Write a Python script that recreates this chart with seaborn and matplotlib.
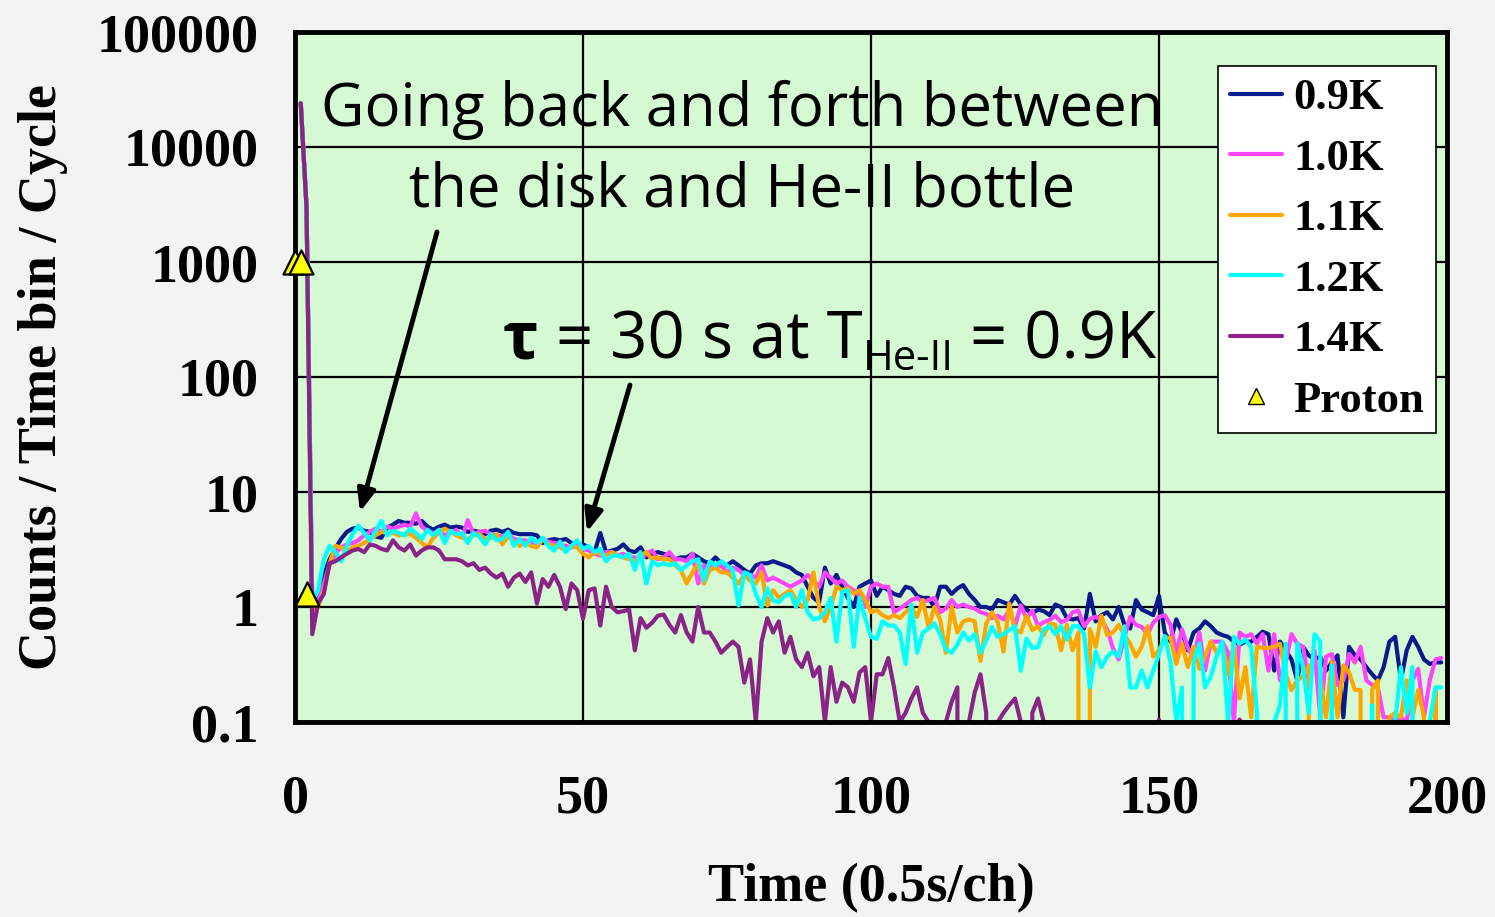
import pandas as pd
import matplotlib
matplotlib.use("Agg")
import matplotlib.pyplot as plt
import seaborn as sns
from matplotlib.lines import Line2D
from matplotlib.ticker import NullLocator

# time channels (0.5 s per channel)
channels = list(range(1, 200))

k09 = [24000, 3000, 1.0, 1.3, 1.9, 2.6, 3.2, 3.9, 4.5, 4.8,
       4.9, 4.6, 4.5, 4.1, 4.0, 4.9, 5.2, 5.6, 5.4, 5.4,
       5.3, 5.6, 5.0, 4.7, 5.0, 5.2, 4.9, 5.0, 4.9, 4.5,
       4.6, 4.5, 4.3, 4.6, 4.7, 4.5, 4.7, 4.4, 4.3, 4.3,
       4.3, 4.2, 3.6, 3.8, 3.9, 3.8, 3.9, 3.6, 3.4, 3.5,
       3.3, 3.0, 4.4, 3.0, 3.1, 3.2, 3.5, 3.1, 3.0, 3.3,
       2.7, 2.9, 3.0, 2.9, 2.8, 2.6, 2.7, 2.7, 2.9, 2.7,
       2.5, 2.4, 2.7, 2.4, 2.3, 2.5, 2.3, 2.1, 1.95, 2.3,
       2.4, 2.4, 2.5, 2.4, 2.3, 2.2, 2.0, 1.9, 1.5, 1.2,
       1.1, 2.2, 1.6, 1.9, 1.5, 1.2, 1.0, 1.5, 1.6, 1.7,
       1.25, 1.5, 1.4, 1.3, 1.25, 1.5, 1.45, 1.25, 1.2, 1.2,
       1.0, 1.5, 1.5, 1.3, 1.45, 1.55, 1.3, 1.15, 1.0, 1.0,
       0.95, 1.15, 1.1, 1.05, 1.25, 1.05, 0.95, 0.88, 0.95, 0.92,
       0.85, 1.05, 1.0, 0.8, 0.78, 0.8, 0.65, 1.3, 0.75, 0.85,
       0.9, 0.78, 1.0, 0.7, 0.65, 1.15, 0.95, 0.9, 0.85, 1.25,
       0.6, 0.5, 0.78, 0.6, 0.42, 0.6, 0.65, 0.75, 0.68, 0.6,
       0.57, 0.55, 0.5, 0.47, 0.5, 0.5, 0.55, 0.61, 0.58, 0.28,
       0.5, 0.42, 0.35, 0.23, 0.45, 0.38, 0.35, 0.37, 0.28, 0.33,
       0.38, 0.11, 0.45, 0.38, 0.35, 0.3, 0.26, 0.23, 0.3, 0.5,
       0.55, 0.23, 0.42, 0.55, 0.45, 0.35, 0.32, 0.33, 0.33]

k10 = [24000, 3000, 0.9, 1.1, 1.6, 2.3, 2.9, 3.3, 3.5, 3.6,
       3.8, 4.2, 4.5, 4.8, 4.5, 5.0, 4.8, 5.0, 5.2, 5.0,
       6.5, 5.0, 4.6, 4.4, 4.6, 4.2, 4.4, 4.7, 4.0, 5.7,
       4.3, 4.5, 4.6, 4.3, 4.2, 4.1, 4.3, 3.9, 3.8, 3.8,
       3.6, 3.5, 3.9, 3.7, 3.6, 3.5, 3.4, 3.3, 3.4, 3.2,
       3.1, 2.9, 2.8, 3.0, 3.0, 2.8, 2.9, 2.7, 2.7, 2.6,
       2.9, 3.1, 2.6, 2.7, 3.0, 2.6, 2.6, 2.5, 2.9, 1.6,
       2.3, 2.2, 2.3, 2.3, 2.0, 2.2, 2.1, 1.9, 1.9, 1.8,
       2.3, 1.7, 1.8, 1.7, 1.6, 1.5, 1.6, 1.7, 1.9, 1.7,
       1.5, 2.0, 1.8, 1.6, 1.7, 1.5, 1.4, 1.25, 1.0, 1.5,
       1.6, 1.5, 1.5, 0.9, 0.97, 1.05, 1.15, 1.2, 1.1, 1.15,
       1.2, 0.9, 0.97, 1.15, 1.0, 1.05, 1.0, 0.97, 0.9, 0.87,
       0.8, 0.84, 0.78, 0.94, 0.68, 1.03, 0.8, 0.93, 0.68, 0.74,
       0.77, 0.84, 0.74, 0.77, 0.9, 0.93, 0.68, 0.79, 0.82, 0.78,
       0.64, 0.44, 0.35, 0.55, 0.82, 0.7, 0.67, 0.58, 0.73, 0.82,
       0.85, 0.7, 0.4, 0.64, 0.44, 0.36, 0.6, 0.28, 0.5, 0.5,
       0.5, 0.4, 0.1, 0.6, 0.55, 0.58, 0.48, 0.58, 0.28, 0.58,
       0.23, 0.33, 0.58, 0.48, 0.45, 0.23, 0.42, 0.11, 0.37, 0.39,
       0.21, 0.23, 0.39, 0.33, 0.45, 0.23, 0.21, 0.2, 0.11, 0.11,
       0.1, 0.11, 0.1, 0.23, 0.29, 0.11, 0.23, 0.35, 0.36]

k11 = [24000, 3000, 0.85, 1.0, 1.4, 2.4, 3.4, 3.3, 3.0, 3.3,
       3.4, 3.6, 3.9, 4.2, 4.5, 4.4, 4.4, 4.2, 4.3, 4.3,
       4.0, 3.6, 3.3, 4.0, 4.4, 4.8, 4.5, 4.2, 4.0, 3.9,
       4.2, 4.3, 3.9, 4.0, 4.3, 3.5, 4.1, 3.7, 3.4, 3.6,
       3.4, 3.3, 3.9, 3.5, 3.4, 3.3, 3.1, 3.4, 3.3, 2.9,
       2.7, 3.0, 2.9, 2.8, 3.0, 2.8, 2.7, 2.6, 2.5, 2.8,
       3.0, 2.6, 2.7, 2.6, 2.6, 2.3, 2.1, 1.6, 2.0, 2.4,
       1.6, 2.1, 2.2, 2.0, 2.0, 1.8, 1.6, 1.9, 1.7, 1.6,
       2.0, 1.03, 1.4, 1.2, 1.3, 1.4, 1.15, 1.0, 1.15, 2.0,
       1.0, 0.75, 1.0, 1.5, 1.4, 1.45, 1.3, 1.4, 1.15, 0.9,
       0.94, 0.85, 0.8, 0.85, 0.8, 0.9, 1.0, 0.82, 1.15, 0.66,
       1.0, 0.78, 0.4, 1.0, 0.6, 0.75, 0.78, 0.75, 0.34, 0.72,
       0.9, 0.74, 0.41, 1.07, 0.63, 0.6, 0.84, 0.63, 0.68, 0.57,
       0.72, 0.7, 0.42, 0.7, 0.42, 0.6, 0.0, 0.64, 0.45, 0.84,
       0.57, 0.6, 0.7, 0.57, 0.48, 0.37, 0.45, 0.68, 0.37, 0.42,
       0.54, 0.54, 0.32, 0.48, 0.3, 0.45, 0.29, 0.37, 0.5, 0.4,
       0.48, 0.26, 0.48, 0.16, 0.3, 0.11, 0.45, 0.44, 0.44, 0.45,
       0.48, 0.26, 0.19, 0.23, 0.25, 0.31, 0.0, 0.23, 0.11, 0.33,
       0.11, 0.31, 0.27, 0.19, 0.19, 0.0, 0.19, 0.23, 0.0, 0.11,
       0.12, 0.11, 0.23, 0.11, 0.19, 0.11, 0.0, 0.19, 0.0]

k12 = [24000, 3000, 1.1, 1.4, 2.6, 3.4, 3.0, 2.5, 3.4, 4.3,
       5.1, 4.4, 3.8, 4.6, 5.6, 4.2, 4.6, 4.4, 4.2, 4.8,
       4.4, 3.9, 4.7, 4.2, 4.7, 3.6, 4.6, 4.3, 4.4, 3.6,
       4.4, 4.1, 3.5, 4.3, 3.8, 3.9, 4.5, 3.4, 3.9, 3.4,
       4.0, 3.6, 4.0, 3.4, 3.1, 3.7, 3.0, 3.4, 3.8, 3.2,
       3.4, 3.0, 3.2, 2.5, 2.8, 2.8, 2.7, 2.9, 2.1, 3.0,
       1.6, 2.5, 2.3, 2.4, 2.3, 2.4, 2.1, 2.3, 2.5, 2.6,
       1.7, 2.5, 2.3, 2.5, 2.3, 2.1, 1.03, 2.0, 1.9, 1.3,
       1.0, 1.45, 1.14, 1.1, 1.25, 1.3, 1.0, 1.4, 0.9, 0.78,
       0.8, 0.9, 1.2, 0.5, 1.35, 1.4, 0.45, 1.2, 0.8, 0.55,
       0.53, 0.75, 0.69, 0.69, 0.6, 0.32, 1.05, 0.4, 0.6, 0.65,
       0.72, 0.58, 0.43, 0.4, 0.47, 0.6, 0.51, 0.58, 0.4, 0.51,
       0.67, 0.55, 0.58, 0.63, 0.68, 0.28, 0.53, 0.44, 0.45, 0.64,
       0.68, 0.58, 0.68, 0.52, 0.68, 0.68, 0.58, 0.2, 0.41, 0.3,
       0.37, 0.41, 0.37, 0.68, 0.2, 0.2, 0.28, 0.2, 0.28, 0.39,
       0.56, 0.33, 0.1, 0.2, 0.0, 0.33, 0.48, 0.2, 0.25, 0.37,
       0.5, 0.1, 0.55, 0.48, 0.52, 0.45, 0.12, 0.0, 0.1, 0.1,
       0.14, 0.48, 0.0, 0.48, 0.3, 0.12, 0.58, 0.5, 0.0, 0.31,
       0.0, 0.1, 0.0, 0.0, 0.0, 0.0, 0.14, 0.0, 0.0, 0.0,
       0.1, 0.3, 0.12, 0.3, 0.0, 0.0, 0.1, 0.2, 0.2]

k14 = [24000, 3000, 0.58, 1.07, 1.3, 2.4, 2.5, 2.7, 2.9, 3.1,
       3.2, 3.0, 3.5, 3.4, 3.2, 3.1, 3.8, 3.3, 3.1, 3.5,
       2.8, 3.1, 3.3, 3.3, 3.1, 2.6, 2.6, 2.6, 2.5, 2.3,
       2.4, 2.1, 2.2, 1.95, 1.8, 1.95, 1.5, 1.8, 1.95, 1.65,
       2.0, 1.07, 1.75, 1.5, 1.9, 1.5, 0.96, 1.6, 1.4, 0.79,
       1.4, 1.45, 0.69, 1.5, 1.0, 0.9, 0.92, 0.95, 0.42, 0.8,
       0.66, 0.73, 0.84, 0.86, 0.7, 0.6, 0.85, 0.6, 0.5, 1.0,
       0.6, 0.6, 0.5, 0.4, 0.45, 0.5, 0.45, 0.22, 0.35, 0.1,
       0.5, 0.8, 0.6, 0.75, 0.4, 0.55, 0.35, 0.3, 0.4, 0.25,
       0.3, 0.1, 0.3, 0.15, 0.22, 0.2, 0.15, 0.27, 0.3, 0.1,
       0.26, 0.26, 0.36, 0.2, 0.1, 0.12, 0.16, 0.2, 0.12, 0.1,
       0.1, 0.0, 0.1, 0.15, 0.2, 0.0, 0.1, 0.18, 0.26, 0.12,
       0.0, 0.1, 0.12, 0.14, 0.16, 0.1, 0.0, 0.12, 0.16, 0.1,
       0.0, 0.0, 0.0, 0.1, 0.0, 0.0, 0.0, 0.0, 0.0, 0.0,
       0.0, 0.0, 0.0, 0.0, 0.0, 0.0, 0.0, 0.0, 0.0, 0.105,
       0.0, 0.0, 0.0, 0.0, 0.0, 0.0, 0.0, 0.0, 0.0, 0.0,
       0.0, 0.0, 0.0, 0.105, 0.0, 0.0, 0.0, 0.0, 0.0, 0.0,
       0.0, 0.0, 0.0, 0.0, 0.0, 0.0, 0.0, 0.0, 0.0, 0.0,
       0.0, 0.0, 0.0, 0.0, 0.0, 0.0, 0.0, 0.0, 0.0, 0.0,
       0.0, 0.0, 0.0, 0.0, 0.0, 0.0, 0.0, 0.0, 0.0]

proton_x = [0, 1, 2]
proton_y = [1000, 1000, 1.3]

temps = ['0.9K', '1.0K', '1.1K', '1.2K', '1.4K']
colors = ['#0a1a8c', '#ff44ff', '#ffa500', '#00ffff', '#8b2288']

y_ticks = [0.1, 1, 10, 100, 1000, 10000, 100000]
y_ticklabels = ['0.1', '1', '10', '100', '1000', '10000', '100000']
x_ticks = [0, 50, 100, 150, 200]

# long table for seaborn
frames = []
for t, vals in zip(temps, [k09, k10, k11, k12, k14]):
    frames.append(pd.DataFrame({'Time': channels, 'Counts': vals, 'Temp': t}))
df = pd.concat(frames, ignore_index=True)

sns.set_theme(style='white')
plt.rcParams['font.family'] = ['Liberation Serif', 'DejaVu Serif']
plt.rcParams['text.color'] = 'black'
plt.rcParams['axes.labelcolor'] = 'black'
plt.rcParams['xtick.color'] = 'black'
plt.rcParams['ytick.color'] = 'black'

fig = plt.figure(figsize=(14.95, 9.17), dpi=100, facecolor='#f3f3f3')
ax = fig.add_axes([295 / 1495, 1 - 722 / 917, 1152 / 1495, 690 / 917])
ax.set_facecolor('#d5f9d3')

sns.lineplot(data=df, x='Time', y='Counts', hue='Temp', hue_order=temps,
             palette=dict(zip(temps, colors)), linewidth=3,
             estimator=None, legend=False, ax=ax)
ax.scatter(proton_x, proton_y, marker='^', s=300, color='#ffff00',
           edgecolor='black', linewidth=1.6, zorder=5, clip_on=False)

ax.set_yscale('log', nonpositive='clip')
ax.set_ylim(0.1, 100000)
ax.set_xlim(0, 200)
ax.set_yticks(y_ticks)
ax.set_yticklabels(y_ticklabels)
ax.set_xticks(x_ticks)
ax.yaxis.set_minor_locator(NullLocator())
ax.grid(True, color='black', linewidth=1.6)
ax.set_axisbelow(True)
ax.tick_params(length=0, labelsize=39)
ax.tick_params(axis='y', pad=26)
ax.tick_params(axis='x', pad=38)
for lab in ax.get_xticklabels() + ax.get_yticklabels():
    lab.set_fontweight('bold')
for sp in ax.spines.values():
    sp.set_visible(True)
    sp.set_color('black')
    sp.set_linewidth(3.5)

ax.set_xlabel('Time (0.5s/ch)', fontsize=39, fontweight='bold')
ax.set_ylabel('Counts / Time bin / Cycle', fontsize=39, fontweight='bold')
ax.xaxis.set_label_coords(0.5, (722 - 863) / 690)
ax.yaxis.set_label_coords((68 - 295) / 1152, 0.5)

handles = [Line2D([], [], color=c, linewidth=3) for c in colors]
handles.append(Line2D([], [], linestyle='none', marker='^', markersize=12,
                      markerfacecolor='#ffff00', markeredgecolor='black'))
leg = ax.legend(handles, temps + ['Proton'], loc='upper right',
                bbox_to_anchor=(1 - 11 / 1152, 1 - 34 / 690), borderaxespad=0,
                prop={'family': 'Liberation Serif', 'weight': 'bold', 'size': 32},
                handlelength=1.17, handletextpad=0.25, labelspacing=0.46,
                borderpad=0.27, frameon=True, fancybox=False, framealpha=1,
                edgecolor='black', facecolor='white')
leg.get_frame().set_linewidth(1.2)

# annotations
hand = ['Open Sans', 'DejaVu Sans']
fig.text(742 / 1495, 1 - 150 / 917, 'Going back and forth between\nthe disk and He-II bottle',
         ha='center', va='center', multialignment='center', fontsize=43,
         family=hand, linespacing=1.45)

# tau line built piece by piece so the subscript sits low and small
renderer = fig.canvas.get_renderer()
W = fig.bbox.width
base = 1 - 358 / 917
pieces = [('τ', 48, 'bold', 0), (' = 30 s at T', 47, 'normal', 0),
          ('He-II', 30, 'normal', -12), (' = 0.9K', 47, 'normal', 0)]
xpos = 503 / 1495
for txt, size, weight, dy in pieces:
    t = fig.text(xpos, base + dy / 917, txt, ha='left', va='baseline',
                 fontsize=size, fontweight=weight, family=hand)
    bb = t.get_window_extent(renderer)
    xpos = bb.x1 / W

arrow = dict(arrowstyle='-|>,head_length=1.1,head_width=0.45', lw=3.5,
             color='black', shrinkA=0, shrinkB=0)
ax.annotate('', xy=(360 / 1495, 1 - 512 / 917), xytext=(437 / 1495, 1 - 232 / 917),
            xycoords='figure fraction', textcoords='figure fraction', arrowprops=arrow)
ax.annotate('', xy=(587 / 1495, 1 - 532 / 917), xytext=(630 / 1495, 1 - 385 / 917),
            xycoords='figure fraction', textcoords='figure fraction', arrowprops=arrow)

fig.savefig('out.png', dpi=100, facecolor=fig.get_facecolor())
